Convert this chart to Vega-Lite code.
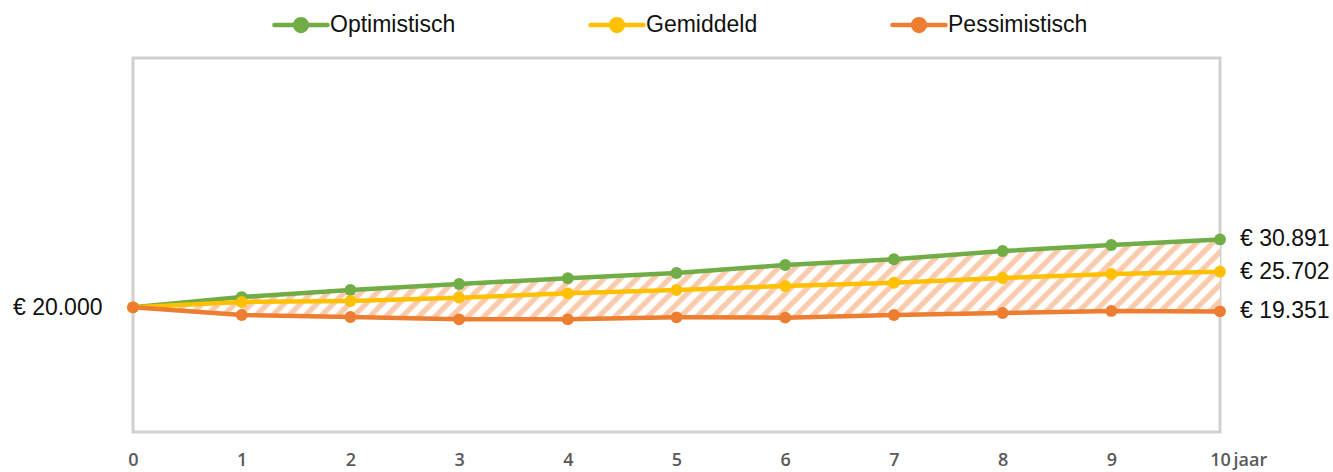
{
  "$schema": "https://vega.github.io/schema/vega-lite/v6.json",
  "width": 1087,
  "height": 374,
  "autosize": {"type": "none"},
  "padding": {"left": 133, "top": 58, "right": 113, "bottom": 40},
  "background": "white",
  "config": {
    "locale": {"number": {"decimal": ",", "thousands": ".", "grouping": [3], "currency": ["€ ", ""]}},
    "view": {"stroke": "#d0d0d0", "strokeWidth": 3},
    "font": "Liberation Sans"
  },
  "data": {
    "values": [
      {"jaar": 0, "scenario": "Optimistisch", "waarde": 20000},
      {"jaar": 1, "scenario": "Optimistisch", "waarde": 21650},
      {"jaar": 2, "scenario": "Optimistisch", "waarde": 22780},
      {"jaar": 3, "scenario": "Optimistisch", "waarde": 23740},
      {"jaar": 4, "scenario": "Optimistisch", "waarde": 24660},
      {"jaar": 5, "scenario": "Optimistisch", "waarde": 25510},
      {"jaar": 6, "scenario": "Optimistisch", "waarde": 26790},
      {"jaar": 7, "scenario": "Optimistisch", "waarde": 27710},
      {"jaar": 8, "scenario": "Optimistisch", "waarde": 29040},
      {"jaar": 9, "scenario": "Optimistisch", "waarde": 30000},
      {"jaar": 10, "scenario": "Optimistisch", "waarde": 30891},
      {"jaar": 0, "scenario": "Gemiddeld", "waarde": 20000},
      {"jaar": 1, "scenario": "Gemiddeld", "waarde": 20860},
      {"jaar": 2, "scenario": "Gemiddeld", "waarde": 21020},
      {"jaar": 3, "scenario": "Gemiddeld", "waarde": 21550},
      {"jaar": 4, "scenario": "Gemiddeld", "waarde": 22250},
      {"jaar": 5, "scenario": "Gemiddeld", "waarde": 22780},
      {"jaar": 6, "scenario": "Gemiddeld", "waarde": 23420},
      {"jaar": 7, "scenario": "Gemiddeld", "waarde": 23950},
      {"jaar": 8, "scenario": "Gemiddeld", "waarde": 24710},
      {"jaar": 9, "scenario": "Gemiddeld", "waarde": 25350},
      {"jaar": 10, "scenario": "Gemiddeld", "waarde": 25702},
      {"jaar": 0, "scenario": "Pessimistisch", "waarde": 20000},
      {"jaar": 1, "scenario": "Pessimistisch", "waarde": 18770},
      {"jaar": 2, "scenario": "Pessimistisch", "waarde": 18450},
      {"jaar": 3, "scenario": "Pessimistisch", "waarde": 18080},
      {"jaar": 4, "scenario": "Pessimistisch", "waarde": 18080},
      {"jaar": 5, "scenario": "Pessimistisch", "waarde": 18400},
      {"jaar": 6, "scenario": "Pessimistisch", "waarde": 18340},
      {"jaar": 7, "scenario": "Pessimistisch", "waarde": 18770},
      {"jaar": 8, "scenario": "Pessimistisch", "waarde": 19090},
      {"jaar": 9, "scenario": "Pessimistisch", "waarde": 19420},
      {"jaar": 10, "scenario": "Pessimistisch", "waarde": 19351}
    ]
  },
  "layer": [
    {
      "transform": [{"pivot": "scenario", "value": "waarde", "groupby": ["jaar"]}],
      "mark": {
        "type": "area",
        "fill": {
          "gradient": "linear", "x1": 0, "y1": 0, "x2": 1.07, "y2": 0.0786,
          "stops": [
            {"offset": 0, "color": "#f8cbad"}, {"offset": 0.0045, "color": "#f8cbad"}, {"offset": 0.0065, "color": "#fff"}, {"offset": 0.012, "color": "#fff"},
            {"offset": 0.014, "color": "#f8cbad"}, {"offset": 0.0185, "color": "#f8cbad"}, {"offset": 0.0205, "color": "#fff"}, {"offset": 0.026, "color": "#fff"},
            {"offset": 0.028, "color": "#f8cbad"}, {"offset": 0.0325, "color": "#f8cbad"}, {"offset": 0.0345, "color": "#fff"}, {"offset": 0.04, "color": "#fff"},
            {"offset": 0.042, "color": "#f8cbad"}, {"offset": 0.0465, "color": "#f8cbad"}, {"offset": 0.0485, "color": "#fff"}, {"offset": 0.054, "color": "#fff"},
            {"offset": 0.056, "color": "#f8cbad"}, {"offset": 0.0605, "color": "#f8cbad"}, {"offset": 0.0625, "color": "#fff"}, {"offset": 0.068, "color": "#fff"},
            {"offset": 0.07, "color": "#f8cbad"}, {"offset": 0.0745, "color": "#f8cbad"}, {"offset": 0.0765, "color": "#fff"}, {"offset": 0.082, "color": "#fff"},
            {"offset": 0.084, "color": "#f8cbad"}, {"offset": 0.0885, "color": "#f8cbad"}, {"offset": 0.0905, "color": "#fff"}, {"offset": 0.096, "color": "#fff"},
            {"offset": 0.098, "color": "#f8cbad"}, {"offset": 0.1025, "color": "#f8cbad"}, {"offset": 0.1045, "color": "#fff"}, {"offset": 0.11, "color": "#fff"},
            {"offset": 0.112, "color": "#f8cbad"}, {"offset": 0.1165, "color": "#f8cbad"}, {"offset": 0.1185, "color": "#fff"}, {"offset": 0.124, "color": "#fff"},
            {"offset": 0.126, "color": "#f8cbad"}, {"offset": 0.1305, "color": "#f8cbad"}, {"offset": 0.1325, "color": "#fff"}, {"offset": 0.138, "color": "#fff"},
            {"offset": 0.14, "color": "#f8cbad"}, {"offset": 0.1445, "color": "#f8cbad"}, {"offset": 0.1465, "color": "#fff"}, {"offset": 0.152, "color": "#fff"},
            {"offset": 0.154, "color": "#f8cbad"}, {"offset": 0.1585, "color": "#f8cbad"}, {"offset": 0.1605, "color": "#fff"}, {"offset": 0.166, "color": "#fff"},
            {"offset": 0.168, "color": "#f8cbad"}, {"offset": 0.1725, "color": "#f8cbad"}, {"offset": 0.1745, "color": "#fff"}, {"offset": 0.18, "color": "#fff"},
            {"offset": 0.182, "color": "#f8cbad"}, {"offset": 0.1865, "color": "#f8cbad"}, {"offset": 0.1885, "color": "#fff"}, {"offset": 0.194, "color": "#fff"},
            {"offset": 0.196, "color": "#f8cbad"}, {"offset": 0.2005, "color": "#f8cbad"}, {"offset": 0.2025, "color": "#fff"}, {"offset": 0.208, "color": "#fff"},
            {"offset": 0.21, "color": "#f8cbad"}, {"offset": 0.2145, "color": "#f8cbad"}, {"offset": 0.2165, "color": "#fff"}, {"offset": 0.222, "color": "#fff"},
            {"offset": 0.224, "color": "#f8cbad"}, {"offset": 0.2285, "color": "#f8cbad"}, {"offset": 0.2305, "color": "#fff"}, {"offset": 0.236, "color": "#fff"},
            {"offset": 0.238, "color": "#f8cbad"}, {"offset": 0.2425, "color": "#f8cbad"}, {"offset": 0.2445, "color": "#fff"}, {"offset": 0.25, "color": "#fff"},
            {"offset": 0.252, "color": "#f8cbad"}, {"offset": 0.2565, "color": "#f8cbad"}, {"offset": 0.2585, "color": "#fff"}, {"offset": 0.264, "color": "#fff"},
            {"offset": 0.266, "color": "#f8cbad"}, {"offset": 0.2705, "color": "#f8cbad"}, {"offset": 0.2725, "color": "#fff"}, {"offset": 0.278, "color": "#fff"},
            {"offset": 0.28, "color": "#f8cbad"}, {"offset": 0.2845, "color": "#f8cbad"}, {"offset": 0.2865, "color": "#fff"}, {"offset": 0.292, "color": "#fff"},
            {"offset": 0.294, "color": "#f8cbad"}, {"offset": 0.2985, "color": "#f8cbad"}, {"offset": 0.3005, "color": "#fff"}, {"offset": 0.306, "color": "#fff"},
            {"offset": 0.308, "color": "#f8cbad"}, {"offset": 0.3125, "color": "#f8cbad"}, {"offset": 0.3145, "color": "#fff"}, {"offset": 0.32, "color": "#fff"},
            {"offset": 0.322, "color": "#f8cbad"}, {"offset": 0.3265, "color": "#f8cbad"}, {"offset": 0.3285, "color": "#fff"}, {"offset": 0.334, "color": "#fff"},
            {"offset": 0.336, "color": "#f8cbad"}, {"offset": 0.3405, "color": "#f8cbad"}, {"offset": 0.3425, "color": "#fff"}, {"offset": 0.348, "color": "#fff"},
            {"offset": 0.35, "color": "#f8cbad"}, {"offset": 0.3545, "color": "#f8cbad"}, {"offset": 0.3565, "color": "#fff"}, {"offset": 0.362, "color": "#fff"},
            {"offset": 0.364, "color": "#f8cbad"}, {"offset": 0.3685, "color": "#f8cbad"}, {"offset": 0.3705, "color": "#fff"}, {"offset": 0.376, "color": "#fff"},
            {"offset": 0.378, "color": "#f8cbad"}, {"offset": 0.3825, "color": "#f8cbad"}, {"offset": 0.3845, "color": "#fff"}, {"offset": 0.39, "color": "#fff"},
            {"offset": 0.392, "color": "#f8cbad"}, {"offset": 0.3965, "color": "#f8cbad"}, {"offset": 0.3985, "color": "#fff"}, {"offset": 0.404, "color": "#fff"},
            {"offset": 0.406, "color": "#f8cbad"}, {"offset": 0.4105, "color": "#f8cbad"}, {"offset": 0.4125, "color": "#fff"}, {"offset": 0.418, "color": "#fff"},
            {"offset": 0.42, "color": "#f8cbad"}, {"offset": 0.4245, "color": "#f8cbad"}, {"offset": 0.4265, "color": "#fff"}, {"offset": 0.432, "color": "#fff"},
            {"offset": 0.434, "color": "#f8cbad"}, {"offset": 0.4385, "color": "#f8cbad"}, {"offset": 0.4405, "color": "#fff"}, {"offset": 0.446, "color": "#fff"},
            {"offset": 0.448, "color": "#f8cbad"}, {"offset": 0.4525, "color": "#f8cbad"}, {"offset": 0.4545, "color": "#fff"}, {"offset": 0.46, "color": "#fff"},
            {"offset": 0.462, "color": "#f8cbad"}, {"offset": 0.4665, "color": "#f8cbad"}, {"offset": 0.4685, "color": "#fff"}, {"offset": 0.474, "color": "#fff"},
            {"offset": 0.476, "color": "#f8cbad"}, {"offset": 0.4805, "color": "#f8cbad"}, {"offset": 0.4825, "color": "#fff"}, {"offset": 0.488, "color": "#fff"},
            {"offset": 0.49, "color": "#f8cbad"}, {"offset": 0.4945, "color": "#f8cbad"}, {"offset": 0.4965, "color": "#fff"}, {"offset": 0.502, "color": "#fff"},
            {"offset": 0.504, "color": "#f8cbad"}, {"offset": 0.5085, "color": "#f8cbad"}, {"offset": 0.5105, "color": "#fff"}, {"offset": 0.516, "color": "#fff"},
            {"offset": 0.518, "color": "#f8cbad"}, {"offset": 0.5225, "color": "#f8cbad"}, {"offset": 0.5245, "color": "#fff"}, {"offset": 0.53, "color": "#fff"},
            {"offset": 0.532, "color": "#f8cbad"}, {"offset": 0.5365, "color": "#f8cbad"}, {"offset": 0.5385, "color": "#fff"}, {"offset": 0.544, "color": "#fff"},
            {"offset": 0.546, "color": "#f8cbad"}, {"offset": 0.5505, "color": "#f8cbad"}, {"offset": 0.5525, "color": "#fff"}, {"offset": 0.558, "color": "#fff"},
            {"offset": 0.56, "color": "#f8cbad"}, {"offset": 0.5645, "color": "#f8cbad"}, {"offset": 0.5665, "color": "#fff"}, {"offset": 0.572, "color": "#fff"},
            {"offset": 0.574, "color": "#f8cbad"}, {"offset": 0.5785, "color": "#f8cbad"}, {"offset": 0.5805, "color": "#fff"}, {"offset": 0.586, "color": "#fff"},
            {"offset": 0.588, "color": "#f8cbad"}, {"offset": 0.5925, "color": "#f8cbad"}, {"offset": 0.5945, "color": "#fff"}, {"offset": 0.6, "color": "#fff"},
            {"offset": 0.602, "color": "#f8cbad"}, {"offset": 0.6065, "color": "#f8cbad"}, {"offset": 0.6085, "color": "#fff"}, {"offset": 0.614, "color": "#fff"},
            {"offset": 0.616, "color": "#f8cbad"}, {"offset": 0.6205, "color": "#f8cbad"}, {"offset": 0.6225, "color": "#fff"}, {"offset": 0.628, "color": "#fff"},
            {"offset": 0.63, "color": "#f8cbad"}, {"offset": 0.6345, "color": "#f8cbad"}, {"offset": 0.6365, "color": "#fff"}, {"offset": 0.642, "color": "#fff"},
            {"offset": 0.644, "color": "#f8cbad"}, {"offset": 0.6485, "color": "#f8cbad"}, {"offset": 0.6505, "color": "#fff"}, {"offset": 0.656, "color": "#fff"},
            {"offset": 0.658, "color": "#f8cbad"}, {"offset": 0.6625, "color": "#f8cbad"}, {"offset": 0.6645, "color": "#fff"}, {"offset": 0.67, "color": "#fff"},
            {"offset": 0.672, "color": "#f8cbad"}, {"offset": 0.6765, "color": "#f8cbad"}, {"offset": 0.6785, "color": "#fff"}, {"offset": 0.684, "color": "#fff"},
            {"offset": 0.686, "color": "#f8cbad"}, {"offset": 0.6905, "color": "#f8cbad"}, {"offset": 0.6925, "color": "#fff"}, {"offset": 0.698, "color": "#fff"},
            {"offset": 0.7, "color": "#f8cbad"}, {"offset": 0.7045, "color": "#f8cbad"}, {"offset": 0.7065, "color": "#fff"}, {"offset": 0.712, "color": "#fff"},
            {"offset": 0.714, "color": "#f8cbad"}, {"offset": 0.7185, "color": "#f8cbad"}, {"offset": 0.7205, "color": "#fff"}, {"offset": 0.726, "color": "#fff"},
            {"offset": 0.728, "color": "#f8cbad"}, {"offset": 0.7325, "color": "#f8cbad"}, {"offset": 0.7345, "color": "#fff"}, {"offset": 0.74, "color": "#fff"},
            {"offset": 0.742, "color": "#f8cbad"}, {"offset": 0.7465, "color": "#f8cbad"}, {"offset": 0.7485, "color": "#fff"}, {"offset": 0.754, "color": "#fff"},
            {"offset": 0.756, "color": "#f8cbad"}, {"offset": 0.7605, "color": "#f8cbad"}, {"offset": 0.7625, "color": "#fff"}, {"offset": 0.768, "color": "#fff"},
            {"offset": 0.77, "color": "#f8cbad"}, {"offset": 0.7745, "color": "#f8cbad"}, {"offset": 0.7765, "color": "#fff"}, {"offset": 0.782, "color": "#fff"},
            {"offset": 0.784, "color": "#f8cbad"}, {"offset": 0.7885, "color": "#f8cbad"}, {"offset": 0.7905, "color": "#fff"}, {"offset": 0.796, "color": "#fff"},
            {"offset": 0.798, "color": "#f8cbad"}, {"offset": 0.8025, "color": "#f8cbad"}, {"offset": 0.8045, "color": "#fff"}, {"offset": 0.81, "color": "#fff"},
            {"offset": 0.812, "color": "#f8cbad"}, {"offset": 0.8165, "color": "#f8cbad"}, {"offset": 0.8185, "color": "#fff"}, {"offset": 0.824, "color": "#fff"},
            {"offset": 0.826, "color": "#f8cbad"}, {"offset": 0.8305, "color": "#f8cbad"}, {"offset": 0.8325, "color": "#fff"}, {"offset": 0.838, "color": "#fff"},
            {"offset": 0.84, "color": "#f8cbad"}, {"offset": 0.8445, "color": "#f8cbad"}, {"offset": 0.8465, "color": "#fff"}, {"offset": 0.852, "color": "#fff"},
            {"offset": 0.854, "color": "#f8cbad"}, {"offset": 0.8585, "color": "#f8cbad"}, {"offset": 0.8605, "color": "#fff"}, {"offset": 0.866, "color": "#fff"},
            {"offset": 0.868, "color": "#f8cbad"}, {"offset": 0.8725, "color": "#f8cbad"}, {"offset": 0.8745, "color": "#fff"}, {"offset": 0.88, "color": "#fff"},
            {"offset": 0.882, "color": "#f8cbad"}, {"offset": 0.8865, "color": "#f8cbad"}, {"offset": 0.8885, "color": "#fff"}, {"offset": 0.894, "color": "#fff"},
            {"offset": 0.896, "color": "#f8cbad"}, {"offset": 0.9005, "color": "#f8cbad"}, {"offset": 0.9025, "color": "#fff"}, {"offset": 0.908, "color": "#fff"},
            {"offset": 0.91, "color": "#f8cbad"}, {"offset": 0.9145, "color": "#f8cbad"}, {"offset": 0.9165, "color": "#fff"}, {"offset": 0.922, "color": "#fff"},
            {"offset": 0.924, "color": "#f8cbad"}, {"offset": 0.9285, "color": "#f8cbad"}, {"offset": 0.9305, "color": "#fff"}, {"offset": 0.936, "color": "#fff"},
            {"offset": 0.938, "color": "#f8cbad"}, {"offset": 0.9425, "color": "#f8cbad"}, {"offset": 0.9445, "color": "#fff"}, {"offset": 0.95, "color": "#fff"},
            {"offset": 0.952, "color": "#f8cbad"}, {"offset": 0.9565, "color": "#f8cbad"}, {"offset": 0.9585, "color": "#fff"}, {"offset": 0.964, "color": "#fff"},
            {"offset": 0.966, "color": "#f8cbad"}, {"offset": 0.9705, "color": "#f8cbad"}, {"offset": 0.9725, "color": "#fff"}, {"offset": 0.978, "color": "#fff"},
            {"offset": 0.98, "color": "#f8cbad"}, {"offset": 0.9845, "color": "#f8cbad"}, {"offset": 0.9865, "color": "#fff"}, {"offset": 0.992, "color": "#fff"},
            {"offset": 0.994, "color": "#f8cbad"}, {"offset": 1, "color": "#f8cbad"}
          ]
        }
      },
      "encoding": {
        "x": {
          "field": "jaar", "type": "quantitative",
          "scale": {"domain": [0, 10], "nice": false, "zero": false},
          "axis": {
            "values": [0, 1, 2, 3, 4, 5, 6, 7, 8, 9, 10],
            "format": "d",
            "title": "jaar",
            "domain": false, "ticks": false, "tickSize": 0, "grid": false,
            "labelFlush": false, "labelOverlap": false,
            "labelFont": "Open Sans", "labelFontWeight": 600, "labelFontSize": 18,
            "labelColor": "#595959", "labelPadding": 19,
            "titleFont": "Open Sans", "titleFontWeight": 600, "titleFontSize": 18,
            "titleColor": "#595959", "titleX": 1100, "titleY": 19,
            "titleAlign": "left", "titleBaseline": "top", "titleAnchor": "start"
          }
        },
        "y": {
          "field": "Optimistisch", "type": "quantitative",
          "scale": {"domain": [0, 60000], "nice": false},
          "axis": {
            "values": [20000], "title": null,
            "domain": false, "ticks": false, "tickSize": 0, "grid": false,
            "format": "$,.0f",
            "labelFont": "Liberation Sans", "labelFontSize": 23,
            "labelColor": "#111111", "labelPadding": 31
          }
        },
        "y2": {"field": "Pessimistisch"}
      }
    },
    {
      "mark": {"type": "line", "strokeWidth": 4.5, "strokeCap": "round", "strokeJoin": "round"},
      "encoding": {
        "x": {"field": "jaar", "type": "quantitative"},
        "y": {"field": "waarde", "type": "quantitative", "title": null},
        "color": {
          "field": "scenario", "type": "nominal",
          "scale": {"domain": ["Optimistisch", "Gemiddeld", "Pessimistisch"], "range": ["#70ad47", "#ffc000", "#ed7d31"]},
          "legend": {
            "title": null, "orient": "none", "legendX": 139, "legendY": -62,
            "direction": "horizontal", "padding": 0,
            "symbolType": "M-1,0H1M-0.22,0A0.22,0.22,0,1,0,0.22,0A0.22,0.22,0,1,0,-0.22,0Z",
            "symbolSize": 2809, "symbolStrokeWidth": 4.5,
            "labelFont": "Liberation Sans", "labelFontSize": 23, "labelColor": "#111111",
            "labelOffset": 0, "columnPadding": 125,
            "encode": {
              "symbols": {
                "update": {
                  "fill": {"scale": "color", "field": "value"},
                  "stroke": {"scale": "color", "field": "value"},
                  "strokeCap": {"value": "round"},
                  "opacity": {"value": 1}
                }
              }
            }
          }
        }
      }
    },
    {
      "mark": {"type": "circle", "size": 140, "opacity": 1},
      "encoding": {
        "x": {"field": "jaar", "type": "quantitative"},
        "y": {"field": "waarde", "type": "quantitative", "title": null},
        "color": {"field": "scenario", "type": "nominal"}
      }
    },
    {
      "transform": [{"filter": "datum.jaar == 10"}],
      "mark": {"type": "text", "align": "left", "baseline": "middle", "dx": 20, "fontSize": 23, "font": "Liberation Sans", "color": "#111111"},
      "encoding": {
        "x": {"field": "jaar", "type": "quantitative"},
        "y": {"field": "waarde", "type": "quantitative", "title": null},
        "text": {"field": "waarde", "type": "quantitative", "format": "$,.0f"}
      }
    }
  ]
}
